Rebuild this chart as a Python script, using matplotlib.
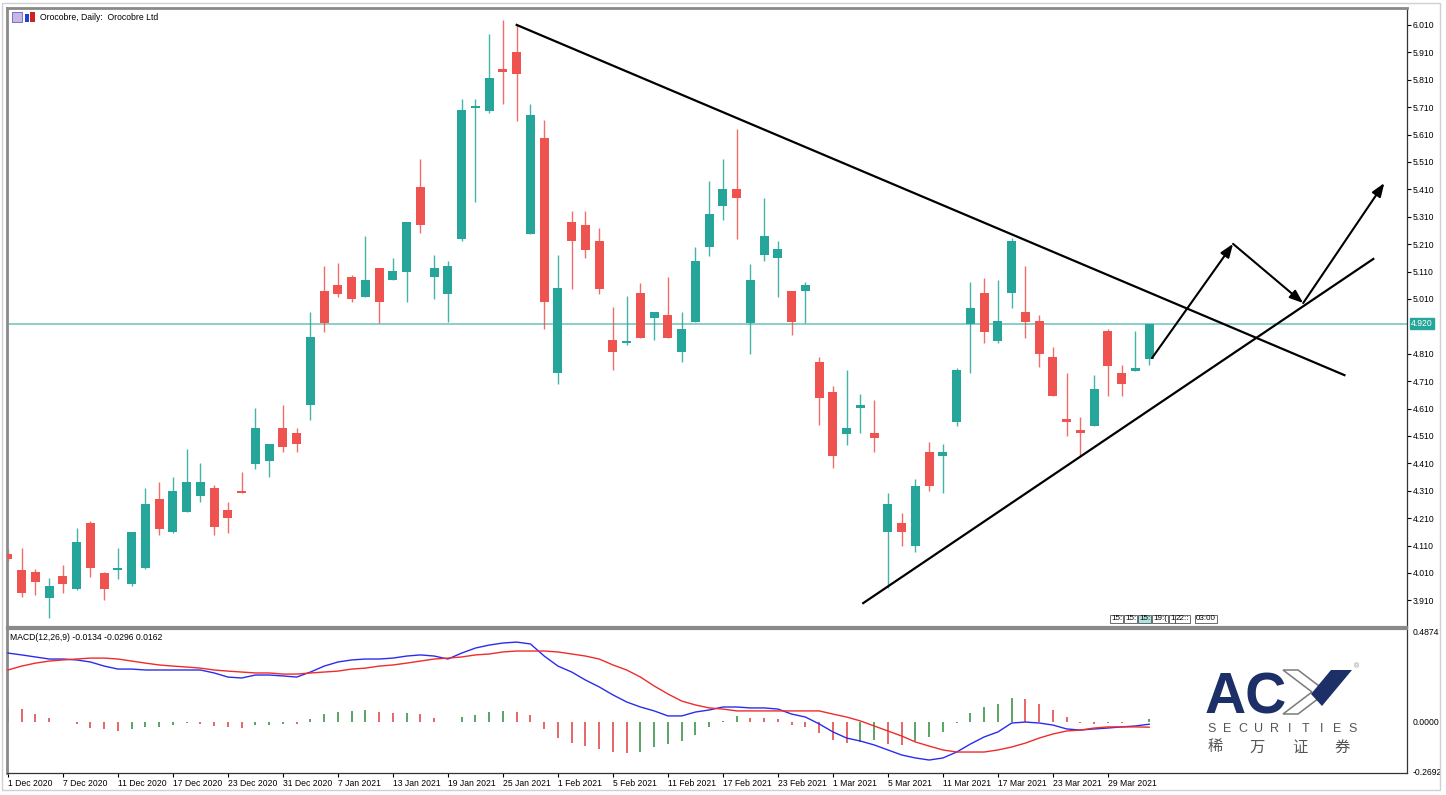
import matplotlib
matplotlib.use("Agg")
import matplotlib.pyplot as plt
import matplotlib.transforms as mtransforms
from matplotlib.patches import Rectangle, Polygon

# ---------------- data ----------------
opens = [4.079, 4.021, 4.013, 3.919, 3.999, 3.951, 4.192, 4.010, 4.021, 3.970,
         4.028, 4.280, 4.159, 4.232, 4.291, 4.320, 4.240, 4.309, 4.408, 4.419,
         4.539, 4.521, 4.623, 5.039, 5.061, 5.090, 5.017, 5.123, 5.079, 5.108,
         5.419, 5.090, 5.028, 5.229, 5.707, 5.696, 5.849, 5.911, 5.247, 5.597,
         4.740, 5.291, 5.280, 5.221, 4.860, 4.849, 5.032, 4.940, 4.951, 4.816,
         4.926, 5.200, 5.349, 5.411, 4.922, 5.170, 5.159, 5.039, 5.039, 4.780,
         4.670, 4.517, 4.612, 4.521, 4.159, 4.192, 4.108, 4.451, 4.437, 4.561,
         4.919, 5.032, 4.857, 5.032, 4.962, 4.930, 4.798, 4.572, 4.532, 4.546,
         4.893, 4.740, 4.747, 4.791]
highs = [4.098, 4.101, 4.024, 3.992, 4.039, 4.174, 4.200, 4.013, 4.101, 4.159,
         4.320, 4.342, 4.360, 4.462, 4.411, 4.331, 4.269, 4.378, 4.612, 4.481,
         4.623, 4.539, 4.962, 5.130, 5.141, 5.097, 5.240, 5.123, 5.159, 5.291,
         5.521, 5.170, 5.148, 5.740, 5.740, 5.977, 6.028, 6.010, 5.721, 5.663,
         5.170, 5.331, 5.331, 5.269, 4.981, 5.021, 5.068, 4.962, 5.090, 4.962,
         5.200, 5.440, 5.521, 5.630, 5.138, 5.378, 5.221, 5.039, 5.072, 4.798,
         4.692, 4.751, 4.663, 4.641, 4.302, 4.229, 4.353, 4.488, 4.481, 4.758,
         5.072, 5.086, 5.079, 5.232, 5.130, 4.951, 4.835, 4.740, 4.579, 4.732,
         4.900, 4.769, 4.893, 4.920]
lows = [4.054, 3.922, 3.930, 3.846, 3.937, 3.948, 3.995, 3.911, 3.988, 3.962,
        4.024, 4.148, 4.156, 4.232, 4.269, 4.148, 4.156, 4.302, 4.389, 4.360,
        4.451, 4.451, 4.568, 4.889, 5.017, 4.999, 5.017, 4.922, 5.079, 4.999,
        5.251, 5.010, 4.926, 5.221, 5.364, 5.689, 5.721, 5.659, 5.247, 4.900,
        4.700, 5.046, 5.159, 5.028, 4.751, 4.842, 4.867, 4.860, 4.867, 4.780,
        4.926, 5.167, 5.298, 5.229, 4.809, 5.148, 5.017, 4.878, 4.922, 4.550,
        4.393, 4.477, 4.521, 4.451, 3.955, 4.108, 4.086, 4.309, 4.302, 4.546,
        4.740, 4.849, 4.849, 4.977, 4.867, 4.762, 4.656, 4.510, 4.433, 4.546,
        4.656, 4.656, 4.747, 4.769]
closes = [4.061, 3.937, 3.977, 3.962, 3.970, 4.123, 4.028, 3.951, 4.023, 4.159,
          4.262, 4.170, 4.309, 4.342, 4.342, 4.178, 4.211, 4.302, 4.539, 4.481,
          4.470, 4.481, 4.871, 4.922, 5.028, 5.010, 5.079, 4.999, 5.112, 5.291,
          5.280, 5.123, 5.130, 5.700, 5.709, 5.816, 5.838, 5.831, 5.681, 4.999,
          5.050, 5.221, 5.189, 5.046, 4.816, 4.857, 4.867, 4.962, 4.867, 4.900,
          5.148, 5.320, 5.411, 5.378, 5.079, 5.240, 5.192, 4.926, 5.061, 4.648,
          4.437, 4.539, 4.623, 4.503, 4.262, 4.159, 4.327, 4.327, 4.451, 4.751,
          4.977, 4.889, 4.930, 5.221, 4.926, 4.809, 4.656, 4.561, 4.521, 4.681,
          4.765, 4.700, 4.758, 4.920]

macd_line = [0.369, 0.359, 0.348, 0.337, 0.337, 0.332, 0.321, 0.299, 0.283, 0.283,
             0.278, 0.278, 0.278, 0.278, 0.278, 0.262, 0.240, 0.235, 0.251, 0.251,
             0.246, 0.240, 0.267, 0.299, 0.321, 0.332, 0.337, 0.337, 0.342, 0.353,
             0.359, 0.353, 0.337, 0.369, 0.396, 0.412, 0.423, 0.428, 0.418, 0.353,
             0.299, 0.267, 0.224, 0.187, 0.144, 0.106, 0.079, 0.058, 0.031, 0.031,
             0.052, 0.063, 0.079, 0.079, 0.074, 0.074, 0.068, 0.041, 0.025, -0.012,
             -0.055, -0.088, -0.104, -0.125, -0.152, -0.179, -0.195, -0.206, -0.195, -0.163,
             -0.120, -0.082, -0.055, -0.007, -0.002, -0.007, -0.018, -0.039, -0.045, -0.039,
             -0.034, -0.028, -0.023, -0.0134]
signal_line = [0.278, 0.299, 0.315, 0.326, 0.332, 0.337, 0.342, 0.342, 0.337, 0.326,
               0.315, 0.305, 0.299, 0.294, 0.288, 0.278, 0.272, 0.267, 0.262, 0.262,
               0.256, 0.256, 0.262, 0.267, 0.272, 0.283, 0.288, 0.299, 0.305, 0.315,
               0.326, 0.337, 0.342, 0.348, 0.359, 0.364, 0.375, 0.380, 0.380, 0.380,
               0.375, 0.364, 0.353, 0.337, 0.305, 0.278, 0.240, 0.192, 0.149, 0.111,
               0.090, 0.074, 0.068, 0.058, 0.058, 0.058, 0.058, 0.058, 0.058, 0.058,
               0.041, 0.025, 0.004, -0.023, -0.050, -0.077, -0.109, -0.131, -0.152, -0.163,
               -0.163, -0.163, -0.152, -0.136, -0.115, -0.088, -0.066, -0.050, -0.045, -0.034,
               -0.028, -0.028, -0.028, -0.0296]
histogram = [0.079, 0.067, 0.041, 0.020, -0.002, -0.012, -0.032, -0.039, -0.048, -0.039,
             -0.029, -0.027, -0.020, -0.007, -0.011, -0.023, -0.029, -0.035, -0.018, -0.016,
             -0.010, -0.013, 0.016, 0.041, 0.052, 0.059, 0.061, 0.052, 0.047, 0.049,
             0.041, 0.020, -0.003, 0.025, 0.038, 0.051, 0.059, 0.051, 0.036, -0.041,
             -0.089, -0.112, -0.129, -0.147, -0.161, -0.167, -0.161, -0.138, -0.122, -0.104,
             -0.072, -0.030, 0.005, 0.030, 0.021, 0.018, 0.014, -0.018, -0.027, -0.063,
             -0.099, -0.113, -0.108, -0.100, -0.121, -0.124, -0.102, -0.081, -0.054, -0.005,
             0.046, 0.078, 0.096, 0.128, 0.120, 0.096, 0.063, 0.027, -0.005, -0.012,
             -0.005, -0.009, -0.003, 0.0162]

date_labels = ["1 Dec 2020", "7 Dec 2020", "11 Dec 2020", "17 Dec 2020", "23 Dec 2020",
               "31 Dec 2020", "7 Jan 2021", "13 Jan 2021", "19 Jan 2021", "25 Jan 2021",
               "1 Feb 2021", "5 Feb 2021", "11 Feb 2021", "17 Feb 2021", "23 Feb 2021",
               "1 Mar 2021", "5 Mar 2021", "11 Mar 2021", "17 Mar 2021", "23 Mar 2021",
               "29 Mar 2021"]
date_label_bars = [0, 4, 8, 12, 16, 20, 24, 28, 32, 36, 40, 44, 48, 52, 56, 60, 64, 68, 72, 76, 80]

price_ticks = [6.010, 5.910, 5.810, 5.710, 5.610, 5.510, 5.410, 5.310, 5.210, 5.110,
               5.010, 4.810, 4.710, 4.610, 4.510, 4.410, 4.310, 4.210, 4.110, 4.010, 3.910]
last_price = 4.920
macd_ticks = [0.4874, 0.0, -0.2692]

# trendlines / projection (bar index, price)
down_x = [37.0, 97.2]
down_y = [6.010, 4.732]
up_x = [62.2, 99.3]
up_y = [3.900, 5.156]
proj_x = [83.2, 89.1, 94.2, 100.1]
proj_y = [4.794, 5.211, 4.995, 5.433]

# ---------------- figure ----------------
W, H = 1446, 795
fig = plt.figure(figsize=(W / 100, H / 100), dpi=100)
FONT = "Liberation Sans"
plt.rcParams["font.family"] = [FONT, "DejaVu Sans"]

def rect(l, t, r, b):
    return [l / W, 1 - b / H, (r - l) / W, (b - t) / H]

ax = fig.add_axes(rect(7, 8, 1407, 627))
axm = fig.add_axes(rect(7, 629, 1407, 773))

UP = "#26a69a"
DN = "#ef5350"
n = len(opens)
xs = list(range(n))

# candles
for i in xs:
    o, h, l, c = opens[i], highs[i], lows[i], closes[i]
    col = UP if c >= o else DN
    ax.vlines(i, l, h, color=col, lw=1.0, alpha=0.85, zorder=2)
    bot = min(o, c)
    hgt = max(abs(c - o), 0.006)
    ax.bar(i, hgt, bottom=bot, width=0.66, color=col, edgecolor=col, lw=0, zorder=3)

ax.axhline(last_price, color="#80cbc4", lw=1.3, zorder=1)

ax.plot(down_x, down_y, color="black", lw=1.6, zorder=5)
ax.plot(up_x, up_y, color="black", lw=1.6, zorder=5)
for k in range(len(proj_x) - 1):
    ax.annotate("", xy=(proj_x[k + 1], proj_y[k + 1]), xytext=(proj_x[k], proj_y[k]),
                arrowprops=dict(arrowstyle="-|>,head_length=0.8,head_width=0.3",
                                color="black", lw=1.5, shrinkA=0, shrinkB=0), zorder=6)

xl = (-0.07, 101.75)
ax.set_xlim(*xl)
ax.set_ylim(3.8128, 6.0718)
ax.set_xticks([])
ax.yaxis.tick_right()
ax.set_yticks(price_ticks)
ax.set_yticklabels(["%.3f" % t for t in price_ticks])
ax.tick_params(axis="y", direction="out", length=3, width=0.8, labelsize=6.2, pad=1,
               colors="black")

trans = mtransforms.blended_transform_factory(ax.transAxes, ax.transData)
ax.text(1.003, last_price, "%.3f" % last_price, transform=trans, fontsize=6.2, color="white",
        va="center", ha="left",
        bbox=dict(boxstyle="square,pad=0.15", facecolor="#26a69a", edgecolor="#26a69a"))

# MACD panel
hist_cols = []
for i in xs:
    prev = histogram[i - 1] if i > 0 else histogram[i] + 0.01
    hist_cols.append("#2e8b3a" if histogram[i] >= prev else "#e03c3c")
axm.vlines(xs, 0, histogram, colors=hist_cols, lw=1.1, zorder=2)
axm.plot(xs, macd_line, color="#2b2bef", lw=1.0, zorder=3)
axm.plot(xs, signal_line, color="#ef2b2b", lw=1.0, zorder=3)
axm.set_xlim(*xl)
axm.set_ylim(-0.2758, 0.4984)
axm.yaxis.tick_right()
axm.set_yticks(macd_ticks)
axm.set_yticklabels(["%.4f" % t for t in macd_ticks])
axm.tick_params(axis="y", length=0, labelsize=6.2, pad=4)
axm.set_xticks(date_label_bars)
axm.set_xticklabels(date_labels, ha="left")
axm.tick_params(axis="x", direction="out", length=3, width=0.8, labelsize=6.2, pad=1)

for a in (ax, axm):
    for s in a.spines.values():
        s.set_color("#333333")
        s.set_linewidth(0.9)
    a.spines["left"].set_color("#8a8a8a")
    a.spines["left"].set_linewidth(2.0)
ax.spines["top"].set_color("#8a8a8a")
ax.spines["top"].set_linewidth(2.0)
ax.spines["bottom"].set_color("#8a8a8a")
ax.spines["bottom"].set_linewidth(1.6)
axm.spines["top"].set_color("#8a8a8a")
axm.spines["top"].set_linewidth(1.6)

# text labels
def fx(x):
    return x / W

def fy(y):
    return 1 - y / H

fig.text(fx(40), fy(17), "Orocobre, Daily:  Orocobre Ltd", fontsize=6.2, va="center", ha="left")
fig.patches.append(Rectangle((fx(12), fy(22)), 10 / W, 10 / H, transform=fig.transFigure,
                             facecolor="#c9b6e4", edgecolor="#6a5acd", lw=0.6))
fig.patches.append(Rectangle((fx(25), fy(22)), 4 / W, 8 / H, transform=fig.transFigure,
                             facecolor="#2244cc", edgecolor="none"))
fig.patches.append(Rectangle((fx(30), fy(22)), 5 / W, 10 / H, transform=fig.transFigure,
                             facecolor="#cc2222", edgecolor="none"))
fig.text(fx(10), fy(637), "MACD(12,26,9) -0.0134 -0.0296 0.0162", fontsize=6.2,
         va="center", ha="left")

# small time boxes
boxes = [(1111, "15:", "white"), (1125, "15:", "white"), (1139, "15:", "#aee3e0"),
         (1153, "19:(", "white"), (1170, "1", "white"), (1176, "22::", "white"),
         (1196, "03:00", "white")]
for bx, txt, fc in boxes:
    fig.text(fx(bx), fy(619), txt, fontsize=5.8, va="center", ha="left",
             bbox=dict(boxstyle="square,pad=0.12", facecolor=fc, edgecolor="#333333", lw=0.5))

# outer frame
fig.patches.append(Rectangle((fx(2), fy(790)), 1438 / W, 787 / H, transform=fig.transFigure,
                             facecolor="none", edgecolor="#d0d0d0", lw=1.0))

# ACY logo
NAVY = "#1c2f66"
fig.text(fx(1205), fy(713), "AC", fontsize=41, fontweight="bold", color=NAVY,
         va="baseline", ha="left", family=["Liberation Sans"])
fig.patches.append(Polygon([(fx(1283), fy(670)), (fx(1298), fy(670)), (fx(1327), fy(692)),
                            (fx(1298), fy(714)), (fx(1283), fy(714)), (fx(1312), fy(692))],
                           closed=True, transform=fig.transFigure, facecolor="white",
                           edgecolor="#7a7a7a", lw=1.1))
fig.patches.append(Polygon([(fx(1331), fy(670)), (fx(1352), fy(670)), (fx(1322), fy(706)),
                            (fx(1311), fy(694))],
                           closed=True, transform=fig.transFigure, facecolor=NAVY,
                           edgecolor="none"))
fig.text(fx(1354), fy(667), "®", fontsize=5, color="#888888", va="center", ha="left")
for k, ch in enumerate("SECURITIES"):
    fig.text(fx(1212 + k * 15.6), fy(729), ch, fontsize=9, color="#555555",
             va="center", ha="center")
for k, ch in enumerate("稀万证券"):
    fig.text(fx(1215 + k * 42.5), fy(747), ch, fontsize=11, color="#555555",
             va="center", ha="center", family=["Noto Sans CJK SC", "DejaVu Sans"])

fig.savefig("out.png", dpi=100, facecolor="white")
